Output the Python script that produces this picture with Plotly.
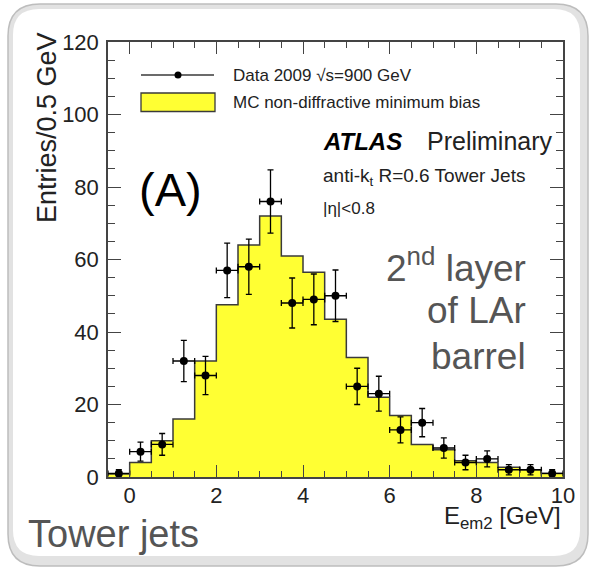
import plotly.graph_objects as go

# Energy in the 2nd layer of the LAr barrel for tower jets, 0.5 GeV bins
bin_edges_lo = [-0.5, 0.0, 0.5, 1.0, 1.5, 2.0, 2.5, 3.0, 3.5, 4.0, 4.5,
                5.0, 5.5, 6.0, 6.5, 7.0, 7.5, 8.0, 8.5, 9.0, 9.5]
bin_width = 0.5
data_counts = [1, 7, 9, 32, 28, 57, 58, 76, 48, 49, 50,
               25, 23, 13, 15, 8, 4, 5, 2, 2, 1]
data_errors = [1.0, 2.6, 3.0, 5.7, 5.3, 7.5, 7.6, 8.7, 6.9, 7.0, 7.1,
               5.0, 4.8, 3.6, 3.9, 2.8, 2.0, 2.2, 1.4, 1.4, 1.0]
mc_counts = [0.8, 4, 10, 16, 32, 47.5, 64, 72, 61, 56.5, 43.5,
             33, 22, 17, 9, 7.5, 4.5, 4, 2.7, 2, 1]
x_ticks = [0, 2, 4, 6, 8, 10]
y_ticks = [0, 20, 40, 60, 80, 100, 120]

W, H = 592, 569
L, R, T, B = 108, 29, 42, 92
PW, PH = W - L - R, H - T - B
FONT = "Liberation Sans, Arial, Helvetica, sans-serif"
YELLOW = "#ffff33"
EDGE = "#3a3a3a"


def px(x):
    return (x - L) / PW


def py(y):
    return 1 - (y - T) / PH


def rounded_rect(x0, y0, x1, y1, r):
    pts = [
        f"M {px(x0 + r)},{py(y0)}",
        f"L {px(x1 - r)},{py(y0)}",
        f"Q {px(x1)},{py(y0)} {px(x1)},{py(y0 + r)}",
        f"L {px(x1)},{py(y1 - r)}",
        f"Q {px(x1)},{py(y1)} {px(x1 - r)},{py(y1)}",
        f"L {px(x0 + r)},{py(y1)}",
        f"Q {px(x0)},{py(y1)} {px(x0)},{py(y1 - r)}",
        f"L {px(x0)},{py(y0 + r)}",
        f"Q {px(x0)},{py(y0)} {px(x0 + r)},{py(y0)}",
        "Z",
    ]
    return " ".join(pts)


centers = [e + bin_width / 2 for e in bin_edges_lo]
step_x = bin_edges_lo + [bin_edges_lo[-1] + bin_width]
step_y = mc_counts + [mc_counts[-1]]

fig = go.Figure()

# MC histogram as a filled step outline
fig.add_trace(go.Scatter(
    x=step_x, y=step_y, mode="lines", line_shape="hv",
    line=dict(color=EDGE, width=1.5),
    fill="tozeroy", fillcolor=YELLOW, showlegend=False, hoverinfo="skip",
))

# Data points with statistical and bin-width error bars
fig.add_trace(go.Scatter(
    x=centers, y=data_counts, mode="markers",
    marker=dict(color="black", size=8),
    error_y=dict(type="data", array=data_errors, color="black", thickness=1.3, width=3),
    error_x=dict(type="constant", value=bin_width / 2, color="black", thickness=1.3, width=3),
    showlegend=False,
))

shapes = [
    # rounded frame around the figure
    dict(type="path", path=rounded_rect(8, 4, 588, 566, 32), xref="paper", yref="paper",
         fillcolor="#e2e2e2", line=dict(color="#bdbdbd", width=1.5), layer="below"),
    dict(type="path", path=rounded_rect(13, 9, 580, 556, 26), xref="paper", yref="paper",
         fillcolor="white", line=dict(width=0), layer="below"),
    # legend symbols
    dict(type="line", x0=px(141), x1=px(214), y0=py(75), y1=py(75), xref="paper", yref="paper",
         line=dict(color=EDGE, width=1.3)),
    dict(type="circle", x0=px(174.5), x1=px(181.5), y0=py(71.5), y1=py(78.5), xref="paper",
         yref="paper", fillcolor="black", line=dict(color="black", width=0)),
    dict(type="rect", x0=px(141), x1=px(215), y0=py(93), y1=py(111.5), xref="paper", yref="paper",
         fillcolor=YELLOW, line=dict(color=EDGE, width=1.3)),
]


def note(text, x, y, size, color="black", xanchor="left", yanchor="middle", angle=0):
    return dict(text=text, x=px(x), y=py(y), xref="paper", yref="paper", showarrow=False,
                xanchor=xanchor, yanchor=yanchor, textangle=angle,
                font=dict(family=FONT, size=size, color=color))


annotations = [
    note("Data 2009 √s=900 GeV", 231, 75.5, 17, "#222"),
    note("MC non-diffractive minimum bias", 231, 102, 17, "#222"),
    note("<b><i>ATLAS</i></b>", 321, 141, 24, "black"),
    note("Preliminary", 425, 141, 25, "#222"),
    note("anti-k<sub>t</sub> R=0.6 Tower Jets", 321, 177, 19, "#222"),
    note("|η|<0.8", 321, 208, 17, "#222"),
    note("(A)", 170, 190, 47, "black", xanchor="center"),
    note("2<sup>nd</sup> layer", 528, 265, 37, "#555", xanchor="right"),
    note("of LAr", 528, 310, 37, "#555", xanchor="right"),
    note("barrel", 528, 356, 37, "#555", xanchor="right"),
    note("Tower jets", 26, 534, 38, "#555"),
    note("Entries/0.5 GeV", 47, 128, 27, "#222", xanchor="center", angle=-90),
    note("E<sub>em2</sub> [GeV]", 563, 517, 24, "#222", xanchor="right"),
]

axis_common = dict(
    showgrid=False, zeroline=False, showline=True, linecolor="#444", linewidth=1.5,
    mirror="ticks", ticks="inside", tickcolor="#444", tickwidth=1.2,
    tickfont=dict(family=FONT, size=22, color="#222"),
)

fig.update_layout(
    width=W, height=H,
    margin=dict(l=L, r=R, t=T, b=B),
    paper_bgcolor="white", plot_bgcolor="white",
    showlegend=False,
    shapes=shapes, annotations=annotations,
    xaxis=dict(range=[-0.5, 10], tickvals=x_ticks, ticktext=[str(v) for v in x_ticks],
               ticklen=12, ticklabelstandoff=-2,
               minor=dict(dtick=0.5, tick0=0, ticks="inside", ticklen=6, tickcolor="#444",
                          tickwidth=1.0, showgrid=False),
               **axis_common),
    yaxis=dict(range=[0, 120], tickvals=y_ticks, ticktext=[str(v) for v in y_ticks],
               ticklen=13, ticklabelstandoff=3,
               minor=dict(dtick=5, tick0=0, ticks="inside", ticklen=7, tickcolor="#444",
                          tickwidth=1.0, showgrid=False),
               **axis_common),
)

fig.write_html("out.html")
